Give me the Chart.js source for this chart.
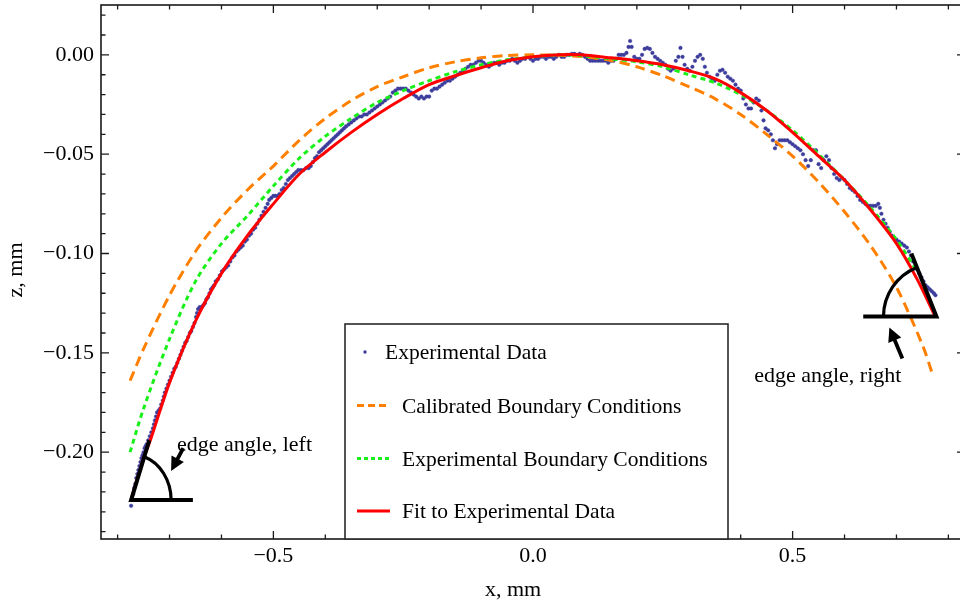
<!DOCTYPE html>
<html>
<head>
<meta charset="utf-8">
<script src="https://cdn.jsdelivr.net/npm/chart.js@4.4.1/dist/chart.umd.min.js"></script>
<style>
  html, body { margin: 0; padding: 0; background: #fff; overflow: hidden; width: 960px; height: 606px; }
  #wrap { position: relative; width: 970px; height: 606px; }
</style>
</head>
<body>
<div id="wrap"><canvas id="dropChart" width="970" height="606"></canvas></div>
<script>
// axis ticks
const xTickVals = [-0.5, 0, 0.5];
const zTickVals = [0, -0.05, -0.1, -0.15, -0.2];
const xMinorTicks = [-0.8, -0.7, -0.6, -0.4, -0.3, -0.2, -0.1, 0.1, 0.2, 0.3, 0.4, 0.6, 0.7, 0.8];
const zMinorTicks = [0.02, 0.01, -0.01, -0.02, -0.03, -0.04, -0.06, -0.07, -0.08, -0.09, -0.11, -0.12, -0.13, -0.14,
  -0.16, -0.17, -0.18, -0.19, -0.21, -0.22, -0.23, -0.24];

// calibrated boundary conditions (orange dashed)
const calibX = [-0.776, -0.75, -0.70, -0.65, -0.60, -0.55, -0.50, -0.45, -0.40, -0.35, -0.30, -0.25, -0.20, -0.15, -0.10, -0.05, 0.00,
  0.05, 0.10, 0.15, 0.20, 0.25, 0.30, 0.35, 0.40, 0.45, 0.50, 0.55, 0.60, 0.65, 0.70, 0.75, 0.771];
const calibZ = [-0.164, -0.148, -0.121, -0.099, -0.082, -0.068, -0.056, -0.043, -0.032, -0.023, -0.016, -0.011, -0.0065, -0.0035, -0.0015, -0.0003, 0.0,
  -0.0002, -0.001, -0.0028, -0.006, -0.0105, -0.016, -0.022, -0.030, -0.040, -0.051, -0.064, -0.079, -0.096, -0.117, -0.146, -0.162];

// experimental boundary conditions (green dotted)
const expBcX = [-0.776, -0.75, -0.70, -0.65, -0.60, -0.55, -0.50, -0.45, -0.40, -0.35, -0.30, -0.25, -0.20, -0.15, -0.10, -0.05, 0.00,
  0.05, 0.10, 0.15, 0.20, 0.25, 0.30, 0.35, 0.40, 0.45, 0.50, 0.55, 0.60, 0.65, 0.70, 0.735];
const expBcZ = [-0.200, -0.178, -0.143, -0.114, -0.095, -0.081, -0.066, -0.052, -0.041, -0.032, -0.024, -0.018, -0.013, -0.0085, -0.005, -0.0025, -0.001,
  0.0, -0.0005, -0.002, -0.0035, -0.006, -0.010, -0.014, -0.020, -0.028, -0.038, -0.050, -0.063, -0.077, -0.093, -0.107];

// fit to experimental data (red)
const fitX = [-0.774, -0.75, -0.737, -0.70, -0.65, -0.60, -0.55, -0.50, -0.45, -0.40, -0.35, -0.30, -0.25, -0.20, -0.15, -0.10, -0.05, 0.00,
  0.05, 0.09, 0.15, 0.20, 0.25, 0.30, 0.35, 0.40, 0.45, 0.50, 0.55, 0.60, 0.65, 0.70, 0.74, 0.775];
const fitZ = [-0.224, -0.203, -0.194, -0.165, -0.134, -0.110, -0.091, -0.075, -0.060, -0.049, -0.039, -0.030, -0.022, -0.015, -0.0105, -0.0065, -0.003, -0.001,
  0.0, 0.0, -0.0015, -0.003, -0.005, -0.008, -0.012, -0.019, -0.028, -0.039, -0.051, -0.063, -0.078, -0.095, -0.113, -0.132];

// measured profile (x, z)
const expPoints = [
  [-0.774,-0.227],[-0.772,-0.224],[-0.770,-0.221],[-0.768,-0.218],[-0.766,-0.216],[-0.764,-0.213],[-0.762,-0.211],[-0.760,-0.209],
  [-0.758,-0.207],[-0.756,-0.205],[-0.754,-0.203],[-0.752,-0.2015],[-0.750,-0.200],[-0.748,-0.198],[-0.746,-0.197],[-0.744,-0.196],
  [-0.741,-0.194],[-0.738,-0.192],[-0.735,-0.190],[-0.732,-0.188],[-0.730,-0.186],[-0.728,-0.184],[-0.726,-0.182],[-0.724,-0.180],
  [-0.721,-0.179],[-0.718,-0.178],[-0.716,-0.176],[-0.713,-0.174],[-0.711,-0.172],[-0.709,-0.170],[-0.706,-0.168],[-0.703,-0.166],
  [-0.700,-0.164],[-0.697,-0.162],[-0.694,-0.160],[-0.691,-0.158],[-0.688,-0.157],[-0.685,-0.155],[-0.682,-0.153],[-0.679,-0.151],
  [-0.676,-0.149],[-0.673,-0.147],[-0.670,-0.145],[-0.667,-0.144],[-0.664,-0.142],[-0.661,-0.140],[-0.658,-0.139],[-0.655,-0.137],
  [-0.652,-0.135],[-0.649,-0.132],[-0.647,-0.130],[-0.645,-0.128],[-0.642,-0.127],[-0.638,-0.127],[-0.635,-0.126],[-0.632,-0.125],
  [-0.629,-0.123],[-0.626,-0.122],[-0.623,-0.120],[-0.620,-0.118],[-0.617,-0.117],[-0.614,-0.116],[-0.611,-0.114],[-0.607,-0.113],
  [-0.603,-0.111],[-0.599,-0.109],[-0.595,-0.108],[-0.591,-0.107],[-0.587,-0.106],[-0.583,-0.104],[-0.579,-0.102],[-0.575,-0.101],
  [-0.571,-0.099],[-0.567,-0.098],[-0.563,-0.097],[-0.559,-0.096],[-0.555,-0.094],[-0.551,-0.093],[-0.547,-0.091],[-0.543,-0.090],
  [-0.539,-0.088],[-0.535,-0.087],[-0.531,-0.085],[-0.527,-0.083],[-0.523,-0.081],[-0.519,-0.079],[-0.515,-0.077],[-0.511,-0.075],
  [-0.508,-0.073],[-0.504,-0.072],[-0.500,-0.071],[-0.496,-0.071],[-0.492,-0.071],[-0.488,-0.070],[-0.484,-0.068],[-0.480,-0.067],
  [-0.476,-0.065],[-0.472,-0.063],[-0.468,-0.062],[-0.464,-0.061],[-0.460,-0.060],[-0.456,-0.059],[-0.452,-0.058],[-0.447,-0.058],
  [-0.442,-0.058],[-0.437,-0.057],[-0.432,-0.057],[-0.428,-0.056],[-0.424,-0.054],[-0.420,-0.052],[-0.416,-0.051],[-0.412,-0.049],
  [-0.408,-0.048],[-0.404,-0.047],[-0.400,-0.046],[-0.396,-0.045],[-0.392,-0.044],[-0.388,-0.043],[-0.384,-0.042],[-0.380,-0.041],
  [-0.376,-0.040],[-0.372,-0.039],[-0.368,-0.038],[-0.364,-0.037],[-0.360,-0.036],[-0.355,-0.035],[-0.350,-0.034],[-0.345,-0.033],
  [-0.340,-0.032],[-0.335,-0.031],[-0.330,-0.031],[-0.325,-0.030],[-0.320,-0.030],[-0.315,-0.029],[-0.310,-0.028],[-0.305,-0.027],
  [-0.300,-0.026],[-0.295,-0.025],[-0.290,-0.024],[-0.285,-0.023],[-0.280,-0.022],[-0.275,-0.021],[-0.270,-0.019],[-0.265,-0.018],
  [-0.260,-0.017],[-0.255,-0.017],[-0.250,-0.017],[-0.245,-0.017],[-0.240,-0.018],[-0.235,-0.019],[-0.230,-0.020],[-0.225,-0.021],
  [-0.220,-0.022],[-0.215,-0.021],[-0.210,-0.022],[-0.205,-0.021],[-0.200,-0.021],[-0.195,-0.018],[-0.190,-0.017],[-0.185,-0.017],
  [-0.180,-0.016],[-0.175,-0.015],[-0.170,-0.014],[-0.165,-0.013],[-0.160,-0.013],[-0.155,-0.012],[-0.150,-0.011],[-0.145,-0.010],
  [-0.140,-0.009],[-0.135,-0.008],[-0.130,-0.007],[-0.125,-0.006],[-0.120,-0.005],[-0.115,-0.005],[-0.110,-0.004],[-0.105,-0.003],
  [-0.100,-0.003],[-0.095,-0.004],[-0.090,-0.005],[-0.085,-0.006],[-0.080,-0.005],[-0.075,-0.004],[-0.070,-0.004],[-0.065,-0.005],
  [-0.060,-0.004],[-0.055,-0.004],[-0.050,-0.003],[-0.045,-0.003],[-0.040,-0.002],[-0.035,-0.003],[-0.030,-0.004],[-0.025,-0.003],
  [-0.020,-0.002],[-0.015,-0.002],[-0.010,-0.001],[-0.005,-0.002],[0.000,-0.003],[0.005,-0.002],[0.010,-0.002],[0.015,-0.001],
  [0.020,-0.001],[0.025,-0.002],[0.030,-0.001],[0.035,-0.001],[0.040,-0.002],[0.045,-0.001],[0.050,0.000],[0.055,-0.001],
  [0.060,-0.001],[0.065,0.000],[0.070,0.000],[0.075,0.0005],[0.080,0.0005],[0.085,0.000],[0.090,0.0005],[0.095,0.000],
  [0.100,-0.001],[0.105,-0.002],[0.110,-0.003],[0.115,-0.003],[0.120,-0.003],[0.125,-0.003],[0.130,-0.003],[0.135,-0.003],
  [0.140,-0.003],[0.145,-0.004],[0.150,-0.003],[0.155,-0.003],[0.160,-0.002],[0.165,0.000],[0.170,0.000],[0.175,0.000],
  [0.180,0.001],[0.184,0.004],[0.187,0.007],[0.190,0.004],[0.195,-0.001],[0.200,-0.002],[0.205,-0.002],[0.210,0.000],
  [0.215,0.003],[0.220,0.0035],[0.225,0.003],[0.230,0.001],[0.235,-0.001],[0.240,-0.002],[0.245,-0.003],[0.250,-0.004],
  [0.255,-0.005],[0.260,-0.007],[0.265,-0.008],[0.270,-0.007],[0.275,-0.003],[0.280,-0.001],[0.284,0.0035],[0.288,-0.001],
  [0.292,-0.005],[0.297,-0.007],[0.302,-0.008],[0.307,-0.006],[0.312,-0.003],[0.317,-0.001],[0.322,0.000],[0.327,-0.002],
  [0.331,-0.006],[0.335,-0.009],[0.340,-0.011],[0.345,-0.012],[0.350,-0.013],[0.355,-0.010],[0.360,-0.008],[0.365,-0.0075],
  [0.370,-0.009],[0.375,-0.011],[0.380,-0.012],[0.385,-0.013],[0.390,-0.015],[0.395,-0.017],[0.400,-0.018],[0.405,-0.022],
  [0.410,-0.025],[0.415,-0.027],[0.420,-0.027],[0.425,-0.024],[0.430,-0.022],[0.435,-0.023],[0.440,-0.028],[0.444,-0.033],
  [0.448,-0.037],[0.453,-0.038],[0.458,-0.040],[0.462,-0.043],[0.466,-0.047],[0.470,-0.045],[0.475,-0.043],[0.480,-0.043],
  [0.485,-0.043],[0.490,-0.043],[0.495,-0.044],[0.500,-0.045],[0.505,-0.046],[0.510,-0.047],[0.515,-0.048],[0.520,-0.050],
  [0.525,-0.053],[0.530,-0.056],[0.535,-0.053],[0.540,-0.048],[0.545,-0.048],[0.550,-0.055],[0.555,-0.057],[0.560,-0.053],
  [0.565,-0.051],[0.570,-0.053],[0.575,-0.057],[0.580,-0.060],[0.585,-0.062],[0.590,-0.063],[0.595,-0.062],[0.600,-0.063],
  [0.605,-0.065],[0.610,-0.067],[0.615,-0.068],[0.620,-0.069],[0.625,-0.071],[0.630,-0.073],[0.635,-0.074],[0.640,-0.075],
  [0.645,-0.076],[0.650,-0.076],[0.655,-0.076],[0.660,-0.076],[0.665,-0.075],[0.668,-0.077],[0.671,-0.080],[0.675,-0.083],
  [0.679,-0.085],[0.683,-0.087],[0.687,-0.089],[0.691,-0.091],[0.695,-0.092],[0.700,-0.093],[0.705,-0.094],[0.710,-0.095],
  [0.715,-0.096],[0.720,-0.097],[0.724,-0.099],[0.728,-0.101],[0.732,-0.104],[0.736,-0.106],[0.740,-0.108],[0.744,-0.110],
  [0.748,-0.112],[0.752,-0.114],[0.756,-0.116],[0.760,-0.117],[0.764,-0.118],[0.768,-0.119],[0.772,-0.120],[0.775,-0.121]
];

// contact angle sketches, in data units: corner, base end, edge end, arc radii
const leftAngle = { corner: [-0.774, -0.2241], base: [-0.655, -0.2241], edge: [-0.739, -0.194], rx: 0.077, rz: 0.0231 };
const rightAngle = { corner: [0.777, -0.1317], base: [0.636, -0.1317], edge: [0.7287, -0.100], rx: 0.102, rz: 0.0266 };
const notes = [
  { text: 'edge angle, left', at: [-0.6855, -0.1995], from: [-0.6736, -0.198], to: [-0.697, -0.2095] },
  { text: 'edge angle, right', at: [0.426, -0.1648], from: [0.7114, -0.1528], to: [0.6863, -0.1372] }
];

const serif = "'Liberation Serif', 'Times New Roman', serif";

function fmt(v, digits) {
  return (v < 0 ? '\u2212' : '') + Math.abs(v).toFixed(digits);
}

function toPts(xs, zs) {
  return xs.map((x, i) => ({ x: x, y: zs[i] }));
}

function drawArrow(ctx, x1, y1, x2, y2) {
  const ang = Math.atan2(y2 - y1, x2 - x1);
  const head = 14, half = 7;
  const c = Math.cos(ang), s = Math.sin(ang);
  ctx.beginPath();
  ctx.moveTo(x1, y1);
  ctx.lineTo(x2 - c * head * 0.8, y2 - s * head * 0.8);
  ctx.stroke();
  ctx.beginPath();
  ctx.moveTo(x2, y2);
  ctx.lineTo(x2 - head * c + half * s, y2 - head * s - half * c);
  ctx.lineTo(x2 - head * c - half * s, y2 - head * s + half * c);
  ctx.closePath();
  ctx.fill();
}

// frame, inward ticks, angle sketches, legend and axis titles
const framePlugin = {
  id: 'framePlugin',
  afterDatasetsDraw(chart) {
    const ctx = chart.ctx;
    const a = chart.chartArea;
    const xs = chart.scales.x, ys = chart.scales.y;
    ctx.save();

    // frame
    ctx.strokeStyle = '#1a1a1a';
    ctx.lineWidth = 1.6;
    ctx.strokeRect(a.left, a.top, a.right - a.left, a.bottom - a.top);

    // ticks pointing inward on all sides
    ctx.lineWidth = 1.3;
    ctx.beginPath();
    const xTick = (v, len) => {
      const p = xs.getPixelForValue(v);
      ctx.moveTo(p, a.bottom); ctx.lineTo(p, a.bottom - len);
      ctx.moveTo(p, a.top); ctx.lineTo(p, a.top + len);
    };
    const yTick = (v, len) => {
      const p = ys.getPixelForValue(v);
      ctx.moveTo(a.left, p); ctx.lineTo(a.left + len, p);
      ctx.moveTo(a.right, p); ctx.lineTo(a.right - len, p);
    };
    xTickVals.forEach(v => xTick(v, 8));
    xMinorTicks.forEach(v => xTick(v, 4.5));
    zTickVals.forEach(v => yTick(v, 8));
    zMinorTicks.forEach(v => yTick(v, 4.5));
    ctx.stroke();

    // edge angle sketches
    ctx.strokeStyle = '#000';
    ctx.fillStyle = '#000';
    ctx.lineCap = 'butt';
    [leftAngle, rightAngle].forEach(s => {
      const cx = xs.getPixelForValue(s.corner[0]), cy = ys.getPixelForValue(s.corner[1]);
      const bx = xs.getPixelForValue(s.base[0]);
      const ex = xs.getPixelForValue(s.edge[0]), ey = ys.getPixelForValue(s.edge[1]);
      const rx = Math.abs(xs.getPixelForValue(s.rx) - xs.getPixelForValue(0));
      const ry = Math.abs(ys.getPixelForValue(s.rz) - ys.getPixelForValue(0));
      ctx.lineWidth = 4;
      ctx.beginPath();
      ctx.moveTo(bx, cy); ctx.lineTo(cx, cy); ctx.lineTo(ex, ey);
      ctx.stroke();
      const th = Math.atan2((ey - cy) / ry, (ex - cx) / rx);
      ctx.lineWidth = 3.2;
      ctx.beginPath();
      if (bx > cx) ctx.ellipse(cx, cy, rx, ry, 0, th, 0);
      else ctx.ellipse(cx, cy, rx, ry, 0, Math.PI, th + 2 * Math.PI);
      ctx.stroke();
    });

    ctx.font = '22px ' + serif;
    ctx.textBaseline = 'alphabetic';
    ctx.textAlign = 'left';
    notes.forEach(n => {
      ctx.fillText(n.text, xs.getPixelForValue(n.at[0]), ys.getPixelForValue(n.at[1]));
      ctx.lineWidth = 3.8;
      drawArrow(ctx, xs.getPixelForValue(n.from[0]), ys.getPixelForValue(n.from[1]),
        xs.getPixelForValue(n.to[0]), ys.getPixelForValue(n.to[1]));
    });

    // legend box
    const lx = 345, ly = 324, lw = 383, lh = a.bottom - 324;
    ctx.fillStyle = '#fff';
    ctx.fillRect(lx, ly, lw, lh);
    ctx.strokeStyle = '#2a2a2a';
    ctx.lineWidth = 1.6;
    ctx.strokeRect(lx, ly, lw, lh);
    const rowY = [352, 405.5, 458.5, 511];
    ctx.font = '21.5px ' + serif;
    chart.data.datasets.forEach((ds, r) => {
      const y = rowY[r];
      if (!ds.showLine) {
        ctx.fillStyle = ds.pointBackgroundColor;
        ctx.beginPath();
        ctx.arc(365, y, 1.7, 0, Math.PI * 2);
        ctx.fill();
      } else {
        ctx.strokeStyle = ds.borderColor;
        ctx.lineWidth = ds.borderWidth;
        ctx.setLineDash(ds.legendDash || []);
        ctx.beginPath();
        ctx.moveTo(357, y); ctx.lineTo(390, y);
        ctx.stroke();
        ctx.setLineDash([]);
      }
      ctx.fillStyle = '#000';
      ctx.fillText(ds.label, r === 0 ? 385 : 402, y + 7);
    });

    // axis titles
    ctx.font = '22px ' + serif;
    ctx.textAlign = 'center';
    ctx.textBaseline = 'middle';
    ctx.fillText('x, mm', 513, 590);
    ctx.translate(16, 270);
    ctx.rotate(-Math.PI / 2);
    ctx.fillText('z, mm', 0, 0);
    ctx.restore();
  }
};

const ctx = document.getElementById('dropChart').getContext('2d');
const myChart = new Chart(ctx, {
  type: 'scatter',
  data: {
    datasets: [{
      label: 'Experimental Data',
      data: expPoints.map(p => ({ x: p[0], y: p[1] })),
      showLine: false,
      pointRadius: 1.8,
      pointBackgroundColor: '#3c3c9c',
      pointBorderColor: 'rgba(60,60,156,0.45)',
      pointBorderWidth: 1,
      order: 4
    }, {
      label: 'Calibrated Boundary Conditions',
      data: toPts(calibX, calibZ),
      showLine: true,
      borderColor: '#ff8000',
      borderWidth: 3,
      borderDash: [10, 6],
      legendDash: [7, 4],
      pointRadius: 0,
      tension: 0.3,
      order: 3
    }, {
      label: 'Experimental Boundary Conditions',
      data: toPts(expBcX, expBcZ),
      showLine: true,
      borderColor: '#19f019',
      borderWidth: 3,
      borderDash: [5, 4],
      legendDash: [4, 3],
      pointRadius: 0,
      tension: 0.3,
      order: 2
    }, {
      label: 'Fit to Experimental Data',
      data: toPts(fitX, fitZ),
      showLine: true,
      borderColor: '#ff0000',
      borderWidth: 3,
      pointRadius: 0,
      tension: 0.3,
      order: 1
    }]
  },
  options: {
    responsive: false,
    animation: false,
    layout: { padding: { top: 4, right: 5, left: 0, bottom: 0 } },
    plugins: { legend: { display: false }, tooltip: { enabled: false } },
    scales: {
      x: {
        type: 'linear',
        min: -0.832,
        max: 0.832,
        afterBuildTicks: s => { s.ticks = xTickVals.map(v => ({ value: v })); },
        afterFit: s => { s.height = 67; s.paddingLeft = 0; s.paddingRight = 0; },
        grid: { display: false, drawTicks: false },
        border: { display: false },
        ticks: { padding: 4, autoSkip: false, maxRotation: 0, color: '#000', font: { family: serif, size: 22 }, callback: v => fmt(v, 1) }
      },
      y: {
        type: 'linear',
        min: -0.2437,
        max: 0.0251,
        afterBuildTicks: s => { s.ticks = zTickVals.map(v => ({ value: v })); },
        afterFit: s => { s.width = 101; s.paddingTop = 0; s.paddingBottom = 0; },
        grid: { display: false, drawTicks: false },
        border: { display: false },
        ticks: { padding: 7, autoSkip: false, color: '#000', font: { family: serif, size: 22 }, callback: v => fmt(v, 2) }
      }
    }
  },
  plugins: [framePlugin]
});
</script>
</body>
</html>
